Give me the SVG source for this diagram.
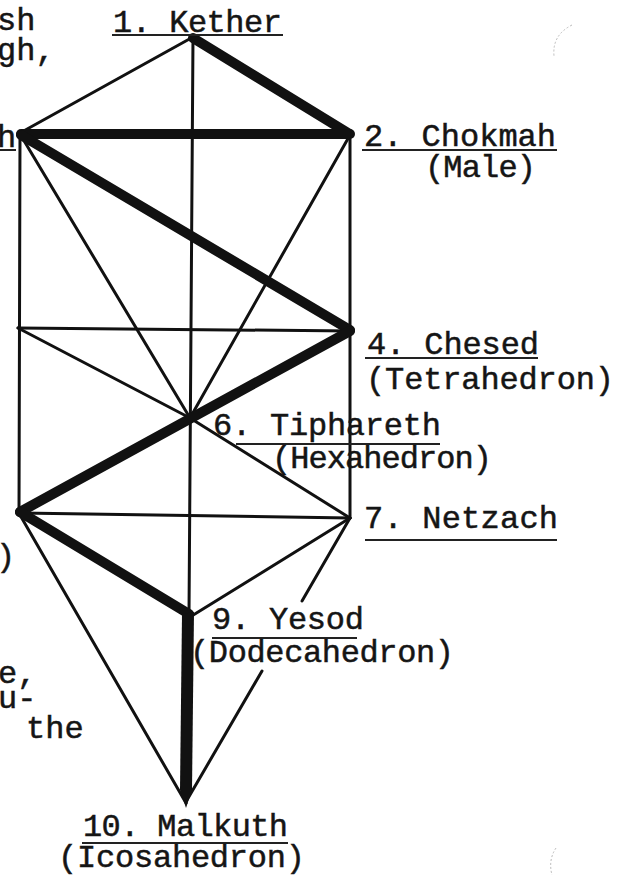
<svg xmlns="http://www.w3.org/2000/svg" width="621" height="875" viewBox="0 0 621 875">
<style>
.t{font-family:"Liberation Mono","Courier New",monospace;font-size:32px;fill:#151515;stroke:#151515;stroke-width:0.5}
.thin{stroke:#111;stroke-width:3;fill:none;stroke-linecap:round}
.thick{stroke:#111;stroke-width:10;fill:none;stroke-linecap:round}
.ul{stroke:#222;stroke-width:2;fill:none}
.scan{stroke:#bbb;stroke-width:1;fill:none;stroke-dasharray:2 2}
</style>
<rect width="621" height="875" fill="#fff"/>
<g id="connectors">
  <line class="thin" x1="193" y1="37" x2="20" y2="133"/>
  <line class="thin" x1="193" y1="37" x2="189" y2="615"/>
  <line class="thin" x1="20" y1="134" x2="19" y2="513"/>
  <line class="thin" x1="350" y1="135" x2="350" y2="518"/>
  <line class="thin" x1="20" y1="134" x2="190" y2="418"/>
  <line class="thin" x1="350" y1="135" x2="190" y2="418"/>
  <line class="thin" x1="18" y1="328" x2="352" y2="331"/>
  <line class="thin" x1="18" y1="328" x2="190" y2="418"/>
  <line class="thin" x1="190" y1="418" x2="350" y2="518"/>
  <line class="thin" x1="20" y1="513" x2="350" y2="518"/>
  <line class="thin" x1="350" y1="518" x2="190" y2="617"/>
  <line class="thin" x1="20" y1="515" x2="186" y2="803"/>
  <line class="thin" x1="350" y1="518" x2="302" y2="601"/>
  <line class="thin" x1="262" y1="671" x2="187" y2="800"/>
  <line class="thick" x1="193" y1="38" x2="348" y2="133"/>
  <line class="thick" x1="21" y1="134" x2="350" y2="134"/>
  <line class="thick" x1="21" y1="135" x2="350" y2="330"/>
  <line class="thick" x1="350" y1="331" x2="20" y2="512"/>
  <line class="thick" x1="20" y1="512" x2="189" y2="614"/>
  <polygon points="182,614 194,612 192,790 186,808 180,790" fill="#111"/>
</g>
<g id="node-kether">
  <text class="t" x="113" y="32" textLength="169">1. Kether</text>
  <line class="ul" x1="112" y1="35" x2="283" y2="35"/>
</g>
<g id="node-chokmah">
  <text class="t" x="364" y="146" textLength="192">2. Chokmah</text>
  <line class="ul" x1="362" y1="150" x2="557" y2="150"/>
  <text class="t" x="425" y="177" textLength="111">(Male)</text>
</g>
<g id="node-binah">
  <text class="t" x="-3" y="147">h</text>
  <line class="ul" x1="0" y1="150" x2="16" y2="150"/>
</g>
<g id="node-chesed">
  <text class="t" x="367" y="354" textLength="172">4. Chesed</text>
  <line class="ul" x1="365" y1="358" x2="538" y2="358"/>
  <text class="t" x="366" y="389" textLength="248">(Tetrahedron)</text>
</g>
<g id="node-tiphareth">
  <text class="t" x="213" y="435" textLength="228">6. Tiphareth</text>
  <line class="ul" x1="236" y1="444" x2="440" y2="444"/>
  <text class="t" x="272" y="468" textLength="220">(Hexahedron)</text>
</g>
<g id="node-netzach">
  <text class="t" x="364" y="528" textLength="194">7. Netzach</text>
  <line class="ul" x1="365" y1="540" x2="557" y2="540"/>
</g>
<g id="node-hod">
  <text class="t" x="-4" y="566">)</text>
</g>
<g id="node-yesod">
  <text class="t" x="212" y="629" textLength="152">9. Yesod</text>
  <line class="ul" x1="212" y1="638" x2="357" y2="638"/>
  <text class="t" x="190" y="662" textLength="264">(Dodecahedron)</text>
</g>
<g id="node-malkuth">
  <text class="t" x="83" y="836" textLength="205">10. Malkuth</text>
  <line class="ul" x1="82" y1="843" x2="288" y2="843"/>
  <text class="t" x="58" y="867" textLength="247">(Icosahedron)</text>
</g>
<g id="margin-text">
  <text class="t" x="-3" y="30">sh</text>
  <text class="t" x="-3" y="60">gh,</text>
  <text class="t" x="-2" y="683">e,</text>
  <text class="t" x="-2" y="708">u-</text>
  <text class="t" x="26" y="738">the</text>
</g>
<path class="scan" d="M572,25 Q552,35 554,56"/>
<path class="scan" d="M556,848 Q548,860 552,875"/>
</svg>
